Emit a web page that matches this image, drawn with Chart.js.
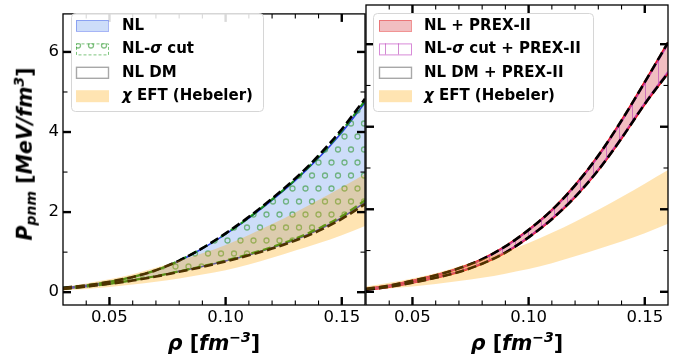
<!DOCTYPE html>
<html><head><meta charset="utf-8">
<script src="https://cdn.jsdelivr.net/npm/chart.js@4.4.0/dist/chart.umd.min.js"></script>
<style>
html,body{margin:0;padding:0;background:#fff;}
#wrap{position:relative;width:699px;height:360px;overflow:hidden;background:#fff;}
canvas{position:absolute;top:0;}
#cL{left:0;}
#cR{left:340px;}
.t{position:absolute;font-family:"DejaVu Sans",sans-serif;font-weight:bold;font-style:italic;font-size:20.5px;white-space:nowrap;color:#000;line-height:1;}
.t sup{font-size:14px;vertical-align:0.55em;line-height:0;}
.t sub{font-size:14px;vertical-align:-0.3em;line-height:0;}
.up{font-style:normal;}
</style>
</head><body>
<div id="wrap">
<canvas id="cL" width="366" height="360"></canvas>
<canvas id="cR" width="359" height="360"></canvas>
<div class="t" id="xtL" style="left:214px;top:343px;transform:translate(-50%,-50%);">ρ <span class="up">[</span>fm<sup>−3</sup><span class="up">]</span></div>
<div class="t" id="xtR" style="left:517px;top:343px;transform:translate(-50%,-50%);">ρ <span class="up">[</span>fm<sup>−3</sup><span class="up">]</span></div>
<div class="t" id="yt" style="left:25px;top:154px;transform:translate(-50%,-50%) rotate(-90deg);">P<sub>pnm</sub> <span class="up">[</span>MeV/fm<sup>3</sup><span class="up">]</span></div>
</div>
<script>
// ---------- data ----------
const densities = [0.03,0.04,0.05,0.06,0.07,0.08,0.09,0.10,0.11,0.12,0.13,0.14,0.15,0.16];
// left panel
const nlLower     = [0.08,0.14,0.21,0.30,0.40,0.52,0.64,0.78,0.93,1.11,1.31,1.56,1.86,2.24];
const nlUpper     = [0.11,0.17,0.26,0.38,0.55,0.78,1.09,1.45,1.85,2.30,2.79,3.35,3.99,4.73];
const sigmaLower  = [0.08,0.14,0.21,0.30,0.40,0.52,0.65,0.79,0.95,1.13,1.34,1.59,1.90,2.29];
const sigmaUpper  = [0.11,0.17,0.26,0.38,0.55,0.79,1.10,1.46,1.86,2.32,2.81,3.38,4.03,4.78];
const dmLower     = [0.08,0.14,0.21,0.29,0.39,0.51,0.63,0.77,0.92,1.09,1.29,1.53,1.83,2.20];
const dmUpper     = [0.11,0.17,0.26,0.38,0.55,0.79,1.10,1.47,1.88,2.34,2.84,3.41,4.07,4.83];
const hebLower    = [0.04,0.08,0.13,0.19,0.26,0.34,0.44,0.55,0.69,0.86,1.04,1.22,1.42,1.65];
const hebUpper    = [0.13,0.22,0.32,0.45,0.61,0.79,0.97,1.18,1.43,1.70,1.99,2.30,2.62,2.95];
// right panel
const prexLower      = [0.05,0.12,0.22,0.34,0.48,0.68,0.95,1.32,1.76,2.30,2.95,3.72,4.55,5.30];
const prexUpper      = [0.07,0.15,0.27,0.40,0.57,0.79,1.10,1.50,1.98,2.58,3.30,4.15,5.08,6.04];
const prexSigmaLower = [0.05,0.12,0.22,0.34,0.49,0.69,0.96,1.33,1.78,2.32,2.97,3.75,4.58,5.34];
const prexSigmaUpper = [0.07,0.15,0.27,0.40,0.57,0.78,1.09,1.49,1.97,2.56,3.28,4.12,5.05,6.00];
const prexDmLower    = [0.05,0.12,0.22,0.34,0.48,0.68,0.95,1.32,1.76,2.30,2.95,3.72,4.55,5.30];
const prexDmUpper    = [0.07,0.15,0.27,0.40,0.57,0.79,1.10,1.50,1.98,2.58,3.30,4.15,5.08,6.04];
// ticks
const xTicks = [0.05,0.10,0.15];
const xMinorTicks = [0.04,0.06,0.07,0.08,0.09,0.11,0.12,0.13,0.14];
const yTicks = [0,2,4,6];
const yMinorTicks = [1,3,5];
const legendLeft  = ['NL','NL-σ cut','NL DM','χ EFT (Hebeler)'];
const legendRight = ['NL + PREX-II','NL-σ cut + PREX-II','NL DM + PREX-II','χ EFT (Hebeler)'];

// ---------- helpers ----------
const FONT = '"DejaVu Sans", sans-serif';
const pts = arr => densities.map((d,i)=>({x:d,y:arr[i]}));

function circlePattern(){
  const c = document.createElement('canvas'); c.width = 26; c.height = 26;
  const g = c.getContext('2d');
  g.strokeStyle = 'rgba(50,150,50,0.6)'; g.lineWidth = 1.3;
  [[6.5,6.5],[19.5,6.5],[0,19.5],[13,19.5],[26,19.5]].forEach(([x,y])=>{
    g.beginPath(); g.arc(x,y,2.5,0,Math.PI*2); g.stroke();
  });
  return g.createPattern(c,'repeat');
}
function vlinePattern(){
  const c = document.createElement('canvas'); c.width = 13; c.height = 13;
  const g = c.getContext('2d');
  g.strokeStyle = 'rgba(180,60,180,0.6)'; g.lineWidth = 1;
  g.beginPath(); g.moveTo(6.5,0); g.lineTo(6.5,13); g.stroke();
  return g.createPattern(c,'repeat');
}
const circPat = circlePattern();
const vPat = vlinePattern();

const BLUE_FILL = 'rgba(100,149,237,0.32)';
const ORANGE_FILL = 'rgba(255,165,0,0.3)';
const RED_FILL = 'rgba(210,40,50,0.3)';

function line(data, color, width, dash, order, fill, bg, tension){
  return {data: pts(data), borderColor: color, borderWidth: width, borderDash: dash || [],
    order: order, fill: fill || false, backgroundColor: bg || 'transparent',
    pointRadius: 0, tension: tension===undefined?0.35:tension, cubicInterpolationMode: 'monotone', borderCapStyle:'butt'};
}

const leftDatasets = [
  line(nlLower,'rgba(20,40,230,0.9)',1.6,null,6),
  line(nlUpper,'rgba(20,40,230,0.9)',1.6,null,6,'-1',BLUE_FILL),
  line(sigmaLower,'rgba(20,140,20,0.95)',2.2,[8,4],5),
  line(sigmaUpper,'rgba(20,140,20,0.95)',2.2,[8,4],5,'-1',circPat),
  line(dmLower,'#000',2.6,[9,4],4),
  line(dmUpper,'#000',2.6,[9,4],4),
  line(hebLower,'transparent',0,null,1,false,null,0),
  line(hebUpper,'transparent',0,null,1,'-1',ORANGE_FILL,0)
];
const rightDatasets = [
  line(prexLower,'rgba(230,0,0,0.95)',2.2,null,6),
  line(prexUpper,'rgba(230,0,0,0.95)',2.2,null,6,'-1',RED_FILL),
  line(prexSigmaLower,'rgba(190,60,190,0.8)',1.5,null,5),
  line(prexSigmaUpper,'rgba(190,60,190,0.8)',1.5,null,5,'-1',vPat),
  line(prexDmLower,'#000',2.6,[9,4],4),
  line(prexDmUpper,'#000',2.6,[9,4],4),
  line(hebLower,'transparent',0,null,1,false,null,0),
  line(hebUpper,'transparent',0,null,1,'-1',ORANGE_FILL,0)
];

function drawFrame(chart){
  const {ctx, chartArea:a, scales:{x,y}} = chart;
  ctx.save();
  ctx.strokeStyle = '#000';
  ctx.lineWidth = 1.3;
  ctx.strokeRect(a.left, a.top, a.right-a.left, a.bottom-a.top);
  const tick = (x1,y1,x2,y2,w)=>{ctx.lineWidth=w;ctx.beginPath();ctx.moveTo(x1,y1);ctx.lineTo(x2,y2);ctx.stroke();};
  xTicks.forEach(v=>{const p=x.getPixelForValue(v); tick(p,a.bottom,p,a.bottom-8,2.4); tick(p,a.top,p,a.top+8,2.4);});
  xMinorTicks.forEach(v=>{const p=x.getPixelForValue(v); tick(p,a.bottom,p,a.bottom-4.5,1.1); tick(p,a.top,p,a.top+4.5,1.1);});
  yTicks.forEach(v=>{const p=y.getPixelForValue(v); tick(a.left,p,a.left+8,p,2.4); tick(a.right,p,a.right-8,p,2.4);});
  yMinorTicks.forEach(v=>{const p=y.getPixelForValue(v); tick(a.left,p,a.left+4.5,p,1.1); tick(a.right,p,a.right-4.5,p,1.1);});
  ctx.restore();
}

function roundRect(ctx,x,y,w,h,r){
  ctx.beginPath();
  ctx.moveTo(x+r,y); ctx.lineTo(x+w-r,y); ctx.arcTo(x+w,y,x+w,y+r,r);
  ctx.lineTo(x+w,y+h-r); ctx.arcTo(x+w,y+h,x+w-r,y+h,r);
  ctx.lineTo(x+r,y+h); ctx.arcTo(x,y+h,x,y+h-r,r);
  ctx.lineTo(x,y+r); ctx.arcTo(x,y,x+r,y,r); ctx.closePath();
}

function drawText(ctx, text, x, y){
  let cx = x;
  for (const ch of text){
    const greek = /[σχρ]/.test(ch);
    ctx.font = (greek?'italic ':'') + 'bold 15px ' + FONT;
    ctx.fillText(ch, cx, y);
    cx += ctx.measureText(ch).width;
  }
}

function drawLegend(chart, box, labels, patches){
  const ctx = chart.ctx;
  ctx.save();
  roundRect(ctx, box.x+0.5, box.y+0.5, box.w, box.h, 4);
  ctx.fillStyle = 'rgba(255,255,255,0.85)'; ctx.fill();
  ctx.strokeStyle = '#d6d6d6'; ctx.lineWidth = 1; ctx.stroke();
  labels.forEach((lab,i)=>{
    const cy = box.y + 12.5 + i*23.4;
    const px = box.x + box.px, py = cy - 5.5, pw = 32, ph = 11;
    patches[i](ctx, px, py, pw, ph);
    ctx.fillStyle = '#000';
    ctx.textBaseline = 'middle';
    drawText(ctx, lab, box.x + box.tx, cy+0.5);
  });
  ctx.restore();
}

const patchNL = (c,x,y,w,h)=>{c.fillStyle=BLUE_FILL;c.fillRect(x,y,w,h);c.strokeStyle='rgba(60,90,235,0.45)';c.lineWidth=1;c.setLineDash([]);c.strokeRect(x+0.5,y+0.5,w,h);};
const patchSigma = (c,x,y,w,h)=>{c.fillStyle=circPat;c.fillRect(x,y,w,h);c.strokeStyle='rgba(20,150,20,0.55)';c.lineWidth=1;c.setLineDash([3,2]);c.strokeRect(x+0.5,y+0.5,w,h);c.setLineDash([]);};
const patchDM = (c,x,y,w,h)=>{c.strokeStyle='#a8a8a8';c.lineWidth=1.4;c.setLineDash([]);c.strokeRect(x+0.5,y+0.5,w,h);};
const patchHeb = (c,x,y,w,h)=>{c.fillStyle=ORANGE_FILL;c.fillRect(x,y,w+1,h+1);};
const patchPrex = (c,x,y,w,h)=>{c.fillStyle=RED_FILL;c.fillRect(x,y,w,h);c.strokeStyle='rgba(230,60,60,0.55)';c.lineWidth=1;c.setLineDash([]);c.strokeRect(x+0.5,y+0.5,w,h);};
const patchPrexSigma = (c,x,y,w,h)=>{c.fillStyle=vPat;c.fillRect(x,y,w,h);c.strokeStyle='rgba(190,60,190,0.6)';c.lineWidth=1;c.setLineDash([]);c.strokeRect(x+0.5,y+0.5,w,h);};

function makeChart(id, datasets, isLeft){
  const decor = {
    id:'decor',
    afterDraw(chart){
      drawFrame(chart);
      if (isLeft) drawLegend(chart,{x:71,y:13,w:192,h:98,px:5,tx:51},legendLeft,[patchNL,patchSigma,patchDM,patchHeb]);
      else drawLegend(chart,{x:373-340,y:13,w:220,h:98,px:6,tx:51},legendRight,[patchPrex,patchPrexSigma,patchDM,patchHeb]);
    }
  };
  return new Chart(document.getElementById(id), {
    type:'line',
    data:{datasets},
    options:{
      responsive:false, animation:false, devicePixelRatio:1,
      layout:{padding: isLeft ? {left:0,right:1,top:5,bottom:0} : {left:26,right:31,top:5,bottom:0}},
      plugins:{legend:{display:false}, tooltip:{enabled:false}, filler:{propagate:false}},
      scales:{
        x:{type:'linear', min:0.03, max:0.16,
           grid:{display:false, drawTicks:false}, border:{display:false},
           ticks:{color:'#000', font:{family:FONT, size:16.5}, padding:3, maxRotation:0, autoSkip:false,
                  callback:v=>Number(v).toFixed(2)},
           afterBuildTicks:s=>{s.ticks = xTicks.map(v=>({value:v}));},
           afterFit:s=>{s.height = 55;}},
        y:{type:'linear', min:-0.32, max:6.95, display:isLeft,
           grid:{display:false, drawTicks:false}, border:{display:false},
           ticks:{color:'#000', font:{family:FONT, size:16.5}, padding:4,
                  callback:v=>String(v)},
           afterBuildTicks:s=>{s.ticks = yTicks.map(v=>({value:v}));},
           afterFit:s=>{s.width = isLeft ? 63 : 0;}}
      }
    },
    plugins:[decor]
  });
}
makeChart('cL', leftDatasets, true);
makeChart('cR', rightDatasets, false);
</script>
</body></html>
